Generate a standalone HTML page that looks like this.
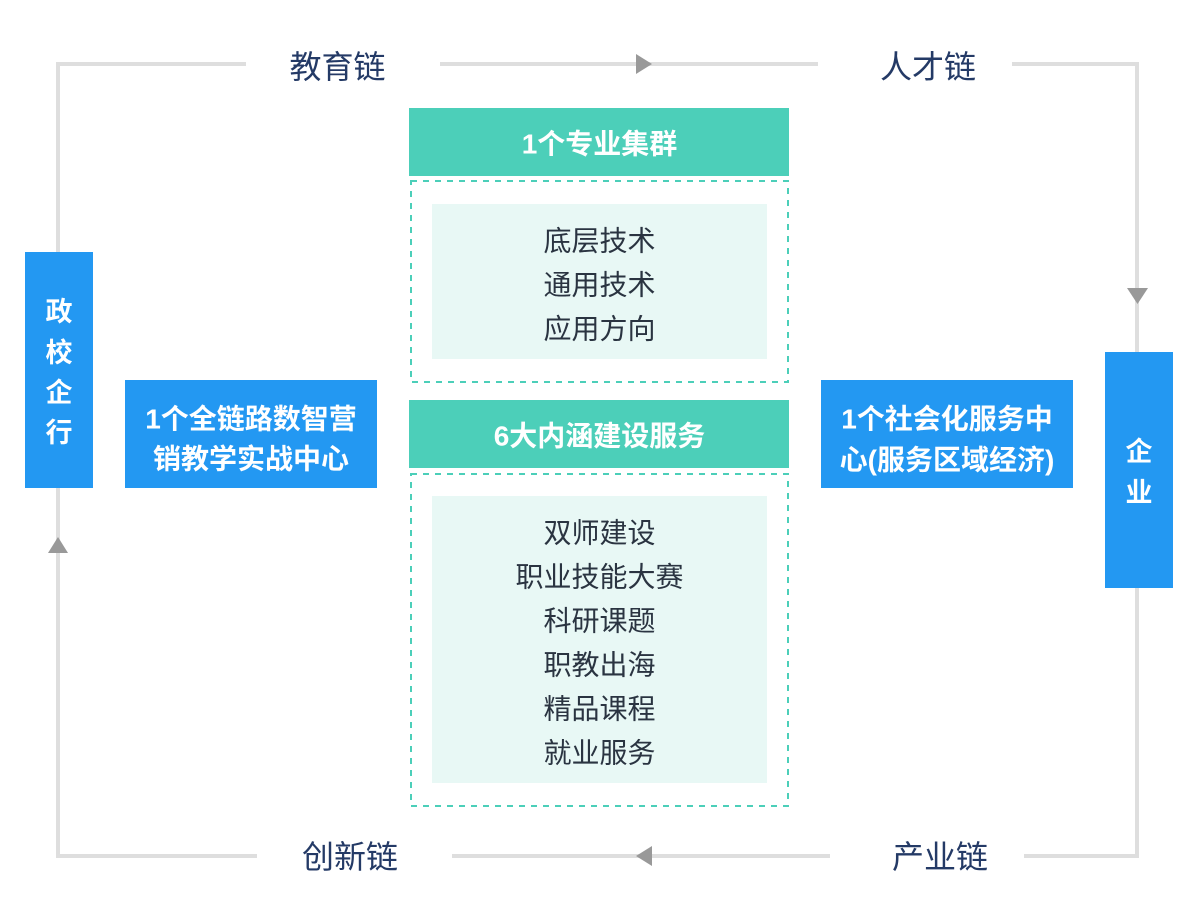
<!DOCTYPE html>
<html>
<head>
<meta charset="utf-8">
<style>
  html, body { margin: 0; padding: 0; background: #ffffff; }
  body { width: 1200px; height: 920px; overflow: hidden; }
  svg { display: block; }
  text { font-family: "Liberation Sans", "Noto Sans CJK SC", sans-serif; }
</style>
</head>
<body>
<svg width="1200" height="920" viewBox="0 0 1200 920" xmlns="http://www.w3.org/2000/svg">
  <rect x="0" y="0" width="1200" height="920" fill="#ffffff"/>

  <!-- loop connectors -->
  <g fill="none" stroke="#dedede" stroke-width="4" stroke-linejoin="miter" stroke-linecap="butt">
    <path d="M58,252 V64 H246"/>
    <path d="M440,64 H818"/>
    <path d="M1012,64 H1137 V352"/>
    <path d="M1137,588 V856 H1024"/>
    <path d="M830,856 H452"/>
    <path d="M257,856 H58 V488"/>
  </g>
  <!-- arrowheads -->
  <g fill="#999999">
    <polygon points="636,54 652,64 636,74"/>
    <polygon points="1127,288 1148,288 1137.5,304"/>
    <polygon points="652,846 636,856 652,866"/>
    <polygon points="48,553 68,553 58,537"/>
  </g>

  <!-- chain labels -->
  <g font-size="32" fill="#243a66" text-anchor="middle" dominant-baseline="central">
    <text x="337.5" y="67">教育链</text>
    <text x="928" y="67">人才链</text>
    <text x="350" y="857">创新链</text>
    <text x="940" y="857">产业链</text>
  </g>

  <!-- left vertical box -->
  <rect x="25" y="252" width="68" height="236" fill="#2398f2"/>
  <g font-size="27" font-weight="bold" fill="#ffffff" text-anchor="middle" dominant-baseline="central">
    <text x="59" y="312">政</text>
    <text x="59" y="353">校</text>
    <text x="59" y="393">企</text>
    <text x="59" y="433">行</text>
  </g>

  <!-- right vertical box -->
  <rect x="1105" y="352" width="68" height="236" fill="#2398f2"/>
  <g font-size="27" font-weight="bold" fill="#ffffff" text-anchor="middle" dominant-baseline="central">
    <text x="1139" y="452">企</text>
    <text x="1139" y="493">业</text>
  </g>

  <!-- left center box -->
  <rect x="125" y="380" width="252" height="108" fill="#2398f2"/>
  <g font-size="28" font-weight="bold" fill="#ffffff" text-anchor="middle" dominant-baseline="central">
    <text x="251" y="419">1个全链路数智营</text>
    <text x="251" y="459">销教学实战中心</text>
  </g>

  <!-- right center box -->
  <rect x="821" y="380" width="252" height="108" fill="#2398f2"/>
  <g font-size="28" font-weight="bold" fill="#ffffff" text-anchor="middle" dominant-baseline="central">
    <text x="947" y="419">1个社会化服务中</text>
    <text x="947" y="460">心(服务区域经济)</text>
  </g>

  <!-- top cluster -->
  <rect x="409" y="108" width="380" height="68" fill="#4ccfb9"/>
  <text x="599.5" y="144" font-size="28" font-weight="bold" fill="#ffffff" text-anchor="middle" dominant-baseline="central">1个专业集群</text>
  <rect x="411" y="181" width="377" height="201" fill="none" stroke="#4ccfb9" stroke-width="2" stroke-dasharray="6 6"/>
  <rect x="432" y="204" width="335" height="155" fill="#e8f8f5"/>
  <g font-size="28" fill="#2a3441" text-anchor="middle" dominant-baseline="central">
    <text x="599.5" y="241">底层技术</text>
    <text x="599.5" y="285">通用技术</text>
    <text x="599.5" y="329">应用方向</text>
  </g>

  <!-- bottom services -->
  <rect x="409" y="400" width="380" height="68" fill="#4ccfb9"/>
  <text x="599.5" y="436" font-size="28" font-weight="bold" fill="#ffffff" text-anchor="middle" dominant-baseline="central">6大内涵建设服务</text>
  <rect x="411" y="474" width="377" height="332" fill="none" stroke="#4ccfb9" stroke-width="2" stroke-dasharray="6 6"/>
  <rect x="432" y="496" width="335" height="287" fill="#e8f8f5"/>
  <g font-size="28" fill="#2a3441" text-anchor="middle" dominant-baseline="central">
    <text x="599.5" y="533">双师建设</text>
    <text x="599.5" y="577">职业技能大赛</text>
    <text x="599.5" y="621">科研课题</text>
    <text x="599.5" y="665">职教出海</text>
    <text x="599.5" y="709">精品课程</text>
    <text x="599.5" y="753">就业服务</text>
  </g>
</svg>
</body>
</html>
